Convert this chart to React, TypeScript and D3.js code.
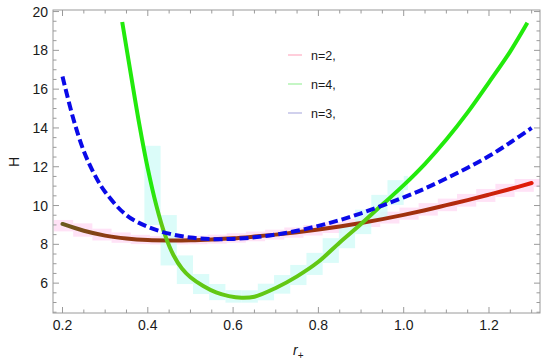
import React from "react";
import * as d3 from "d3";

const n2R = [0.2, 0.25, 0.3, 0.35, 0.4, 0.45, 0.5, 0.55, 0.6, 0.65, 0.7, 0.75, 0.8, 0.85, 0.9, 0.95, 1.0, 1.05, 1.1, 1.15, 1.2, 1.25, 1.3];
const n2H = [9.05, 8.7, 8.45, 8.3, 8.22, 8.2, 8.21, 8.25, 8.31, 8.4, 8.5, 8.62, 8.76, 8.92, 9.1, 9.3, 9.52, 9.76, 10.02, 10.28, 10.56, 10.85, 11.16];

const n3R = [0.2, 0.225, 0.25, 0.275, 0.3, 0.35, 0.4, 0.45, 0.5, 0.55, 0.6, 0.65, 0.7, 0.75, 0.8, 0.85, 0.9, 0.95, 1.0, 1.05, 1.1, 1.15, 1.2, 1.25, 1.3];
const n3H = [16.65, 14.5, 12.8, 11.6, 10.7, 9.5, 8.9, 8.55, 8.35, 8.27, 8.28, 8.36, 8.5, 8.7, 8.95, 9.25, 9.6, 10.0, 10.42, 10.88, 11.4, 11.95, 12.55, 13.25, 14.0];

const n4R = [0.34, 0.36, 0.38, 0.4, 0.42, 0.44, 0.46, 0.48, 0.5, 0.53, 0.56, 0.59, 0.62, 0.65, 0.7, 0.75, 0.8, 0.85, 0.9, 0.95, 1.0, 1.05, 1.1, 1.15, 1.2, 1.25, 1.29];
const n4H = [19.46, 16.8, 14.2, 11.9, 10.0, 8.5, 7.45, 6.75, 6.3, 5.85, 5.52, 5.33, 5.25, 5.3, 5.75, 6.35, 7.1, 8.1, 9.05, 10.05, 11.05, 12.15, 13.4, 14.8, 16.35, 17.95, 19.42];

const xMajorTicks = [0.2, 0.4, 0.6, 0.8, 1.0, 1.2];
const yMajorTicks = [6, 8, 10, 12, 14, 16, 18, 20];
const legendLabels = ["n=2,", "n=4,", "n=3,"];

const W = 550;
const H = 362;
const L = 53, R = 540, T = 10, B = 313;
const FONT = "'Liberation Sans', Arial, sans-serif";

export default function App() {
  const x = d3.scaleLinear().domain([0.1777, 1.3196]).range([L, R]);
  const y = d3.scaleLinear().domain([4.46, 20.08]).range([B, T]);

  const toPts = (rs: number[], hs: number[]) => rs.map((r, i) => [r, hs[i]] as [number, number]);
  const red = toPts(n2R, n2H);
  const blue = toPts(n3R, n3H);
  const green = toPts(n4R, n4H);

  const line = d3
    .line<[number, number]>()
    .x((d) => x(d[0]))
    .y((d) => y(d[1]))
    .curve(d3.curveCatmullRom.alpha(0.5));

  const interp = (rs: number[], hs: number[]) => d3.scaleLinear().domain(rs).range(hs).clamp(true);
  const redF = interp(n2R, n2H);
  const greenF = interp(n4R, n4H);

  const blocks = (f: any, r0: number, r1: number, step: number, pad: number) => {
    const out: { x0: number; x1: number; y0: number; y1: number }[] = [];
    for (let r = r0; r < r1 - 1e-9; r += step) {
      const re = Math.min(r + step, r1);
      const vals = d3.range(0, 6).map((k) => f(r + ((re - r) * k) / 5));
      const mx = d3.max(vals) as number;
      const mn = d3.min(vals) as number;
      out.push({ x0: x(r), x1: x(re), y0: y(mx) - pad, y1: y(mn) + pad });
    }
    return out;
  };
  const pinkBlocks = blocks(redF, 0.18, 1.32, 0.045, 4);
  const cyanBlocks = blocks(greenF, 0.392, 1.01, 0.038, 5);

  const xMinor = d3.range(0.2, 1.3001, 0.05);
  const yMinor = d3.range(4.5, 20.001, 0.5);

  const frameColor = "#9a9a9a";

  return (
    <svg width={W} height={H} style={{ position: "absolute", left: 0, top: 0 }} fontFamily={FONT}>
      <defs>
        <linearGradient id="redGrad" gradientUnits="userSpaceOnUse" x1={x(0.2)} x2={x(1.3)} y1={0} y2={0}>
          <stop offset="0%" stopColor="#6b5a1e" />
          <stop offset="10%" stopColor="#8e3a12" />
          <stop offset="78%" stopColor="#a2300e" />
          <stop offset="100%" stopColor="#e41a0a" />
        </linearGradient>
        <linearGradient id="greenGrad" gradientUnits="userSpaceOnUse" x1={0} x2={0} y1={y(10.8)} y2={y(9)}>
          <stop offset="0%" stopColor="#22ea0c" />
          <stop offset="100%" stopColor="#62c814" />
        </linearGradient>
        <clipPath id="plotClip">
          <rect x={L} y={T} width={R - L} height={B - T} />
        </clipPath>
      </defs>
      <rect x={0} y={0} width={W} height={H} fill="#ffffff" />

      <g clipPath="url(#plotClip)">
        {pinkBlocks.map((b, i) => (
          <rect key={"p" + i} x={b.x0} y={b.y0} width={b.x1 - b.x0} height={b.y1 - b.y0} fill="#ffd6f2" opacity={0.7} />
        ))}
        {cyanBlocks.map((b, i) => (
          <rect key={"c" + i} x={b.x0} y={b.y0} width={b.x1 - b.x0} height={b.y1 - b.y0} fill="#d2fbf7" opacity={0.8} />
        ))}
        <path d={line(red) || ""} fill="none" stroke="url(#redGrad)" strokeWidth={4} strokeLinecap="round" />
        <path d={line(green) || ""} fill="none" stroke="url(#greenGrad)" strokeWidth={4} />
        <path d={line(blue) || ""} fill="none" stroke="#0a0ae8" strokeWidth={4} strokeDasharray="9,4" />
      </g>

      {/* frame */}
      <rect x={L} y={T} width={R - L} height={B - T} fill="none" stroke={frameColor} strokeWidth={1} />

      {/* x ticks */}
      {xMinor.map((v, i) => {
        const isMajor = xMajorTicks.some((m) => Math.abs(m - v) < 1e-6);
        const len = isMajor ? 6 : 3.5;
        return (
          <g key={"xt" + i}>
            <line x1={x(v)} x2={x(v)} y1={B} y2={B - len} stroke={frameColor} />
            <line x1={x(v)} x2={x(v)} y1={T} y2={T + len} stroke={frameColor} />
          </g>
        );
      })}
      {yMinor.map((v, i) => {
        const isMajor = yMajorTicks.some((m) => Math.abs(m - v) < 1e-6);
        const len = isMajor ? 6 : 3.5;
        return (
          <g key={"yt" + i}>
            <line x1={L} x2={L + len} y1={y(v)} y2={y(v)} stroke={frameColor} />
            <line x1={R} x2={R - len} y1={y(v)} y2={y(v)} stroke={frameColor} />
          </g>
        );
      })}

      {xMajorTicks.map((v) => (
        <text key={"xl" + v} x={x(v)} y={330} textAnchor="middle" fontSize={14} fill="#1a1a1a">
          {v.toFixed(1)}
        </text>
      ))}
      {yMajorTicks.map((v) => (
        <text key={"yl" + v} x={48} y={y(v) + 5} textAnchor="end" fontSize={14} fill="#1a1a1a">
          {v}
        </text>
      ))}

      <text x={19} y={162} transform="rotate(-90 19 162)" textAnchor="middle" fontSize={14} fill="#1a1a1a">
        H
      </text>
      <text x={293} y={355} fontSize={14} fill="#1a1a1a">
        <tspan fontStyle="italic">r</tspan>
        <tspan fontSize={10} dy={4}>+</tspan>
      </text>

      {/* legend */}
      {legendLabels.map((lab, i) => {
        const colors = ["#ffb4c8", "#a6f2a6", "#b8b8e4"];
        const base = [60, 89, 118][i];
        return (
          <g key={"lg" + i}>
            <line x1={288} x2={302} y1={base - 5} y2={base - 5} stroke={colors[i]} strokeWidth={1.3} />
            <text x={311} y={base} fontSize={12.5} fill="#1a1a1a">
              {lab}
            </text>
          </g>
        );
      })}
    </svg>
  );
}
